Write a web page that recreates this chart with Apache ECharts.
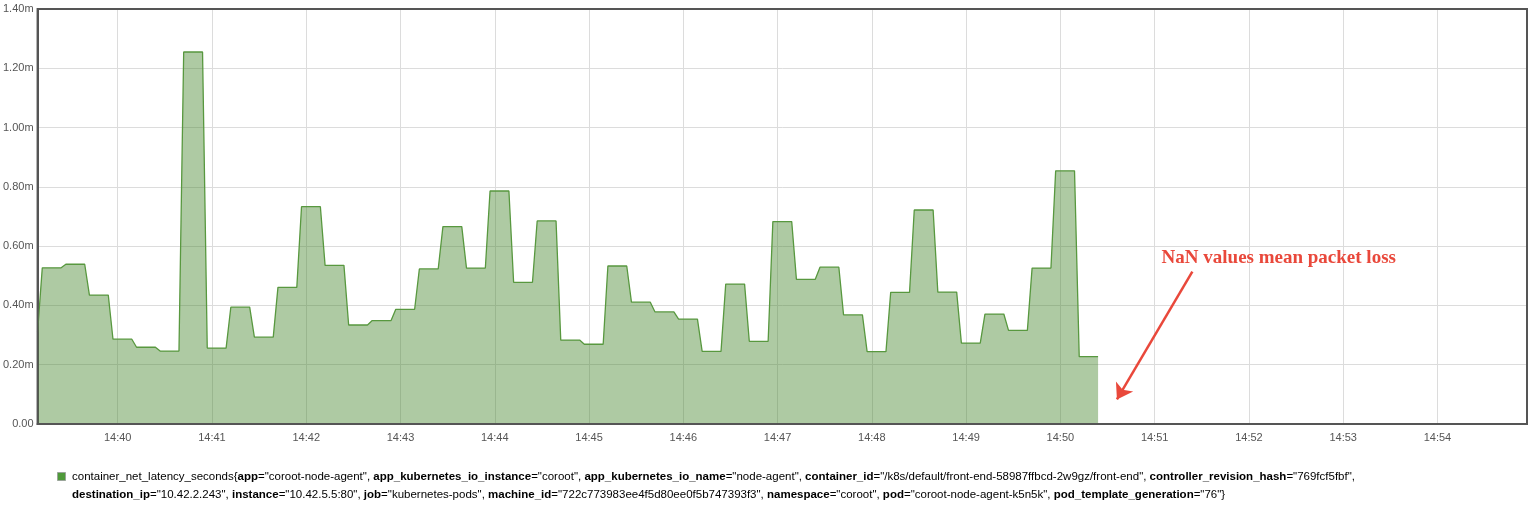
<!DOCTYPE html>
<html>
<head>
<meta charset="utf-8">
<script src="https://cdn.jsdelivr.net/npm/echarts@6/dist/echarts.min.js"></script>
<style>
html,body{margin:0;padding:0;background:#fff;}
#chart{width:1536px;height:506px;}
</style>
</head>
<body>
<div id="chart"></div>
<script>
// ---- data (latency in milliseconds, shown with "m" suffix) ----
var DAY = '2023-01-01';
var axisStart = '14:39:09';
var axisEnd = '14:54:57';
var firstSampleTime = '14:39:09';
var firstSampleValue = 0.31;
var levelStarts = [
  '14:39:12','14:39:27','14:39:42','14:39:57',
  '14:40:12','14:40:27','14:40:42','14:40:57',
  '14:41:12','14:41:27','14:41:42','14:41:57',
  '14:42:12','14:42:27','14:42:42','14:42:57',
  '14:43:12','14:43:27','14:43:42','14:43:57',
  '14:44:12','14:44:27','14:44:42','14:44:57',
  '14:45:12','14:45:27','14:45:42','14:45:57',
  '14:46:12','14:46:27','14:46:42','14:46:57',
  '14:47:12','14:47:27','14:47:42','14:47:57',
  '14:48:12','14:48:27','14:48:42','14:48:57',
  '14:49:12','14:49:27','14:49:42','14:49:57',
  '14:50:12'
];
var levelValues = [
  0.527,0.539,0.435,0.286,
  0.259,0.246,1.255,0.256,
  0.394,0.293,0.461,0.733,
  0.535,0.334,0.349,0.387,
  0.523,0.666,0.526,0.786,
  0.478,0.685,0.283,0.269,
  0.533,0.411,0.378,0.354,
  0.245,0.472,0.279,0.683,
  0.488,0.529,0.368,0.244,
  0.444,0.722,0.445,0.273,
  0.371,0.316,0.526,0.854,
  0.227
];
var holdSeconds = 12; // each scrape value is repeated over the query steps
var yTicks = ['0.00','0.20m','0.40m','0.60m','0.80m','1.00m','1.20m','1.40m'];
var metricName = 'container_net_latency_seconds';
var labelPairs = [
  ['app','coroot-node-agent'],
  ['app_kubernetes_io_instance','coroot'],
  ['app_kubernetes_io_name','node-agent'],
  ['container_id','/k8s/default/front-end-58987ffbcd-2w9gz/front-end'],
  ['controller_revision_hash','769fcf5fbf'],
  ['destination_ip','10.42.2.243'],
  ['instance','10.42.5.5:80'],
  ['job','kubernetes-pods'],
  ['machine_id','722c773983ee4f5d80ee0f5b747393f3'],
  ['namespace','coroot'],
  ['pod','coroot-node-agent-k5n5k'],
  ['pod_template_generation','76']
];
var lineBreakAfter = 5; // number of label pairs on the first legend line
var annotationText = 'NaN values mean packet loss';
var annotationAt = ['14:52:19', 0.56];
var arrowFrom = ['14:51:24', 0.514];
var arrowTo = ['14:50:36', 0.083];

// ---- build ----
function t(hms){
  var p = hms.split(':');
  var d = DAY.split('-');
  return new Date(+d[0], +d[1]-1, +d[2], +p[0], +p[1], +p[2]).getTime();
}
var seriesData = [[t(firstSampleTime), firstSampleValue]];
for (var i = 0; i < levelStarts.length; i++){
  var s = t(levelStarts[i]);
  seriesData.push([s, levelValues[i]]);
  seriesData.push([s + holdSeconds*1000, levelValues[i]]);
}
function pad(n){ return (n<10?'0':'')+n; }

var txt = '{n|' + metricName + '{}';
for (var j = 0; j < labelPairs.length; j++){
  txt += '{b|' + labelPairs[j][0] + '}{n|="' + labelPairs[j][1] + '"' + (j < labelPairs.length-1 ? ',' : '}') + '}';
  if (j === lineBreakAfter-1) txt += '\n';
  else if (j < labelPairs.length-1) txt += '{n| }';
}

var chart = echarts.init(document.getElementById('chart'));
var green = '#5b9a47';
var font = '"Liberation Sans", Arial, Helvetica, sans-serif';
var frame = '#555';
chart.setOption({
  animation: false,
  grid: {left: 37, top: 9, width: 1490, height: 415, show: true, borderColor: frame, borderWidth: 2, backgroundColor: 'transparent', z: 10},
  xAxis: {
    type: 'time',
    min: t(axisStart), max: t(axisEnd),
    minInterval: 60000, maxInterval: 60000, splitNumber: 16,
    axisLine: {show: true, lineStyle: {color: frame, width: 2}},
    axisTick: {show: false},
    axisLabel: {
      color: '#555', fontSize: 11, fontFamily: font, margin: 8,
      showMinLabel: false, showMaxLabel: false,
      formatter: function(v){ var d = new Date(v); return pad(d.getHours()) + ':' + pad(d.getMinutes()); }
    },
    splitLine: {show: true, showMinLine: false, showMaxLine: false, lineStyle: {color: '#dcdcdc', width: 1}}
  },
  yAxis: {
    type: 'value', min: 0, max: 1.4, interval: 0.2,
    axisLine: {show: true, lineStyle: {color: frame, width: 2}},
    axisTick: {show: false},
    axisLabel: {
      color: '#555', fontSize: 11, fontFamily: font, margin: 4,
      formatter: function(v){ return yTicks[Math.round(v/0.2)]; }
    },
    splitLine: {show: true, showMinLine: false, showMaxLine: false, lineStyle: {color: '#dcdcdc', width: 1}}
  },
  series: [{
    name: metricName,
    type: 'line',
    data: seriesData,
    showSymbol: false,
    symbol: 'none',
    lineStyle: {color: '#58983f', width: 1.3},
    itemStyle: {color: green},
    areaStyle: {color: 'rgba(70,135,45,0.44)', opacity: 1},
    markLine: {
      silent: true,
      symbol: ['none', 'arrow'],
      symbolSize: 15,
      label: {show: false},
      lineStyle: {color: '#e9483b', width: 2.5, type: 'solid'},
      itemStyle: {color: '#e9483b'},
      data: [[{coord: [t(arrowFrom[0]), arrowFrom[1]]}, {coord: [t(arrowTo[0]), arrowTo[1]]}]]
    },
    markPoint: {
      silent: true,
      symbol: 'rect', symbolSize: 1,
      itemStyle: {color: 'rgba(0,0,0,0)'},
      label: {show: true, position: 'inside', formatter: annotationText,
        color: '#e9483b', fontFamily: '"Liberation Serif", "Times New Roman", serif', fontWeight: 'bold', fontSize: 19},
      data: [{coord: [t(annotationAt[0]), annotationAt[1]]}]
    }
  }],
  graphic: [
    {type: 'rect', left: 57, top: 472, shape: {width: 8, height: 8},
     style: {fill: '#4f9a3a', stroke: '#9aa59a', lineWidth: 1}},
    {type: 'text', left: 72, top: 468,
     style: {text: txt, fontFamily: font, fontSize: 11.5, lineHeight: 18,
       rich: {n: {fontFamily: font, fontSize: 11.5, color: '#333', lineHeight: 18},
              b: {fontFamily: font, fontSize: 11.5, color: '#111', fontWeight: 'bold', lineHeight: 18}}}}
  ]
});
</script>
</body>
</html>
